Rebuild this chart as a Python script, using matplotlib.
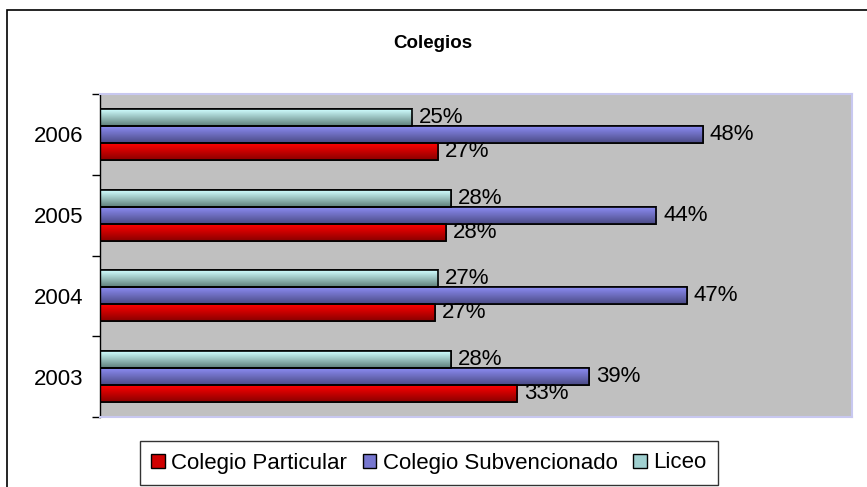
import numpy as np
import matplotlib
matplotlib.use("Agg")
import matplotlib.pyplot as plt
from matplotlib.patches import Patch, Rectangle
from matplotlib.colors import LinearSegmentedColormap

plt.rcParams['font.family'] = ['Liberation Sans', 'DejaVu Sans']

years = ["2003", "2004", "2005", "2006"]
series_names = ["Colegio Particular", "Colegio Subvencionado", "Liceo"]
particular = [0.333, 0.267, 0.276, 0.270]
subvencionado = [0.390, 0.468, 0.444, 0.481]
liceo = [0.280, 0.270, 0.280, 0.249]

# gradient colours (top, bottom) for each series
grads = [("#FF0000", "#8A0000"), ("#8C8CF2", "#4A4A85"), ("#D0FFFF", "#5E7E7A")]
flat = ["#D00000", "#7777D0", "#A0D0D0"]

fig = plt.figure(figsize=(8.67, 4.87), dpi=100)
W, H = 867, 487
ax = fig.add_axes([100 / W, 1 - 417 / H, 752 / W, 323 / H])
ax.set_facecolor("#C0C0C0")

h = 0.21
y = np.arange(len(years))
for k, vals in enumerate([particular, subvencionado, liceo]):
    cmap = LinearSegmentedColormap.from_list("g%d" % k, [grads[k][1], grads[k][0]])
    offs = (k - 1) * h
    bars = ax.barh(y + offs, vals, height=h, color=flat[k], edgecolor="black",
                   linewidth=1.2, zorder=2)
    for b, v in zip(bars, vals):
        x0, y0 = b.get_x(), b.get_y()
        g = np.linspace(0, 1, 64).reshape(-1, 1)
        im = ax.imshow(g, extent=[x0, x0 + v, y0, y0 + h], origin="lower",
                       aspect="auto", cmap=cmap, zorder=2.5, interpolation="bilinear")
        im.set_clip_path(b)
        # redraw outline on top
        ax.add_patch(Rectangle((x0, y0), v, h, fill=False, edgecolor="black",
                               linewidth=1.2, zorder=3))
        ax.annotate("{:.0%}".format(v), (v, y0 + h / 2), xytext=(5, 0),
                    textcoords="offset points", va="center", ha="left",
                    fontsize=16, zorder=4)

ax.set_xlim(0, 0.6)
ax.set_ylim(-0.5, 3.5)
ax.set_xticks([])
ax.set_yticks(y)
ax.set_yticklabels(years, fontsize=16)
ax.set_yticks(np.arange(-0.5, 4.0, 1.0), minor=True)
ax.tick_params(axis="y", which="major", length=0, pad=12)
ax.tick_params(axis="y", which="minor", length=6, width=1, color="black")
for side in ["top", "right", "bottom"]:
    ax.spines[side].set_color("#C8C8F0")
    ax.spines[side].set_linewidth(1.5)
ax.spines["left"].set_color("black")
ax.spines["left"].set_linewidth(1)

fig.text(433 / W, 1 - 43 / H, "Colegios", ha="center", va="center",
         fontsize=13.5, fontweight="bold")

# outer chart frame
fig.patches.append(Rectangle((7 / W, -0.1), 1.2, 1 - 10 / H + 0.1,
                             transform=fig.transFigure, fill=False,
                             edgecolor="black", linewidth=1.2))

handles = [Patch(facecolor=flat[i], edgecolor="black", linewidth=1) for i in range(3)]
leg = fig.legend(handles, series_names, loc="center", ncol=3,
                 bbox_to_anchor=(429 / W, 1 - 463 / H), fontsize=16,
                 frameon=True, fancybox=False, edgecolor="black",
                 handlelength=0.6, handleheight=0.6, handletextpad=0.3,
                 columnspacing=0.7, borderpad=0.5)
leg.get_frame().set_linewidth(1)

fig.savefig("out.png", dpi=100)
